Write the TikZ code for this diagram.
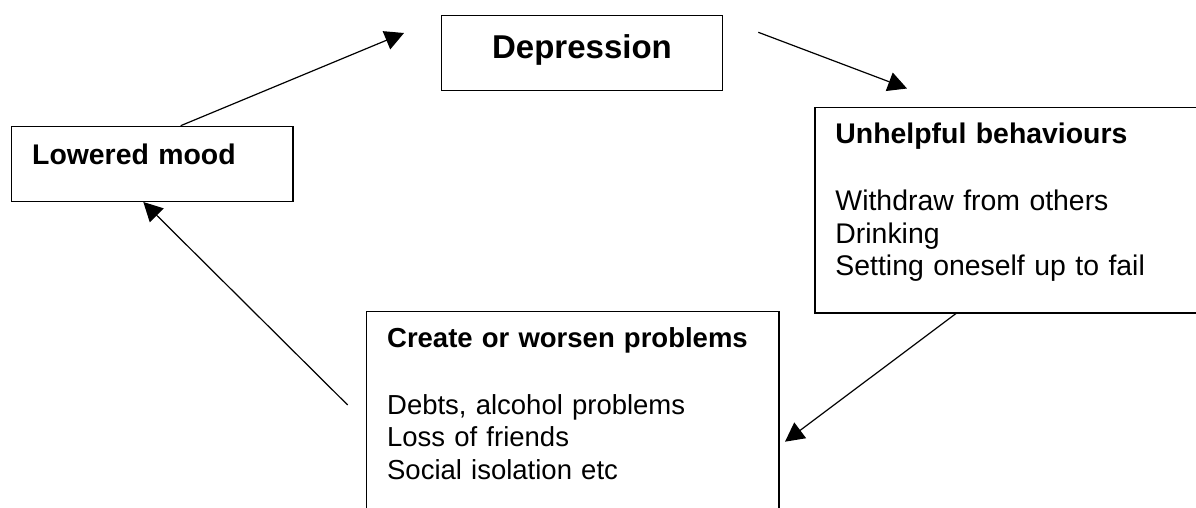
\documentclass[tikz,border=0pt]{standalone}
\usepackage{fontspec}
\setmainfont{Liberation Sans}
\usetikzlibrary{arrows.meta}

\begin{document}
\begin{tikzpicture}[x=1pt,y=-1pt
,pstyle0/.style={draw=black,line width=1.3pt,inner ysep=0pt,inner xsep=20.5pt,anchor=north west,font=\fontsize{28.4pt}{32.5pt}\selectfont}
,pstyle1/.style={pstyle0,align=left}
,pstyle2/.style={color=black,line width=1.2pt,-{Triangle[length=19pt,width=19.5pt]}}
]
\useasboundingbox (0,0) rectangle (1196,508);
\node[pstyle0,minimum width=281.3pt,align=center,text height=43.6pt,text depth=31.7pt,font=\fontsize{33pt}{38pt}\selectfont\bfseries] (depression) at (440.7,14.7) {Depression};
\node[pstyle1,text width=240.3pt,text height=38.3pt,text depth=36.7pt] (mood) at (11,125.7) {\mbox{\textbf{Lowered mood}}};
\node[pstyle1,text width=343.7pt,text height=36.6pt,text depth=169pt] (behave) at (814.3,106.7) {\mbox{\textbf{Unhelpful behaviours}}\\[34.2pt]Withdraw from others\\Drinking\\Setting oneself up to fail};
\node[pstyle1,text width=371.3pt,text height=36pt,text depth=190pt,font=\fontsize{27.5pt}{32.5pt}\selectfont] (problems) at (366,310.7) {\mbox{\textbf{Create or worsen problems}}\\[34.2pt]Debts, alcohol problems\\Loss of friends\\Social isolation etc};
\coordinate (moodtop) at ([xshift=28.4pt]mood.north);
\coordinate (depin) at (404,33);
\coordinate (depout) at (758.3,32.3);
\coordinate (behavein) at (907,88.5);
\coordinate (behaveout) at ([xshift=-51.4pt]behave.south);
\coordinate (probin) at (785,441.7);
\coordinate (probout) at (347.7,405);
\coordinate (moodin) at ([xshift=-9pt]mood.south);
\draw[pstyle2] (moodtop) -- (depin);
\draw[pstyle2] (depout) -- (behavein);
\draw[pstyle2] (behaveout) -- (probin);
\draw[pstyle2] (probout) -- (moodin);
\end{tikzpicture}
\end{document}
